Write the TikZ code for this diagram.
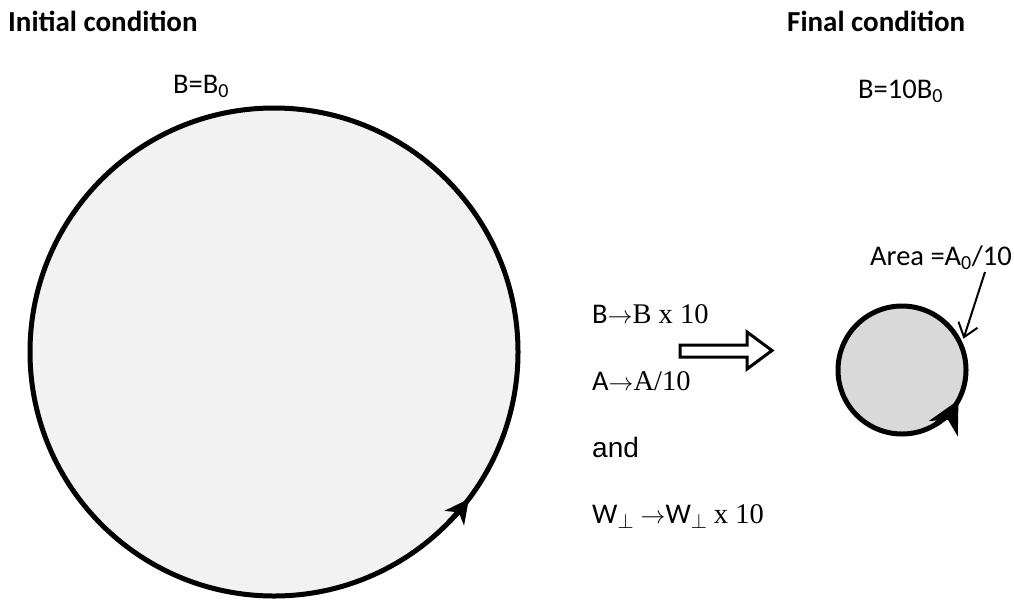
\documentclass[tikz,border=0pt]{standalone}
\usepackage{fontspec}
\setmainfont{Carlito}
\newfontfamily\cambria{Liberation Serif}
\newfontfamily\arialf{Liberation Sans}
\usetikzlibrary{arrows.meta,calc}
\newcommand{\toarr}{{\fontsize{26}{28}\selectfont$\rightarrow$}}

\begin{document}
\begin{tikzpicture}[x=1pt, y=-1pt,
  txt/.style={anchor=base west, inner sep=0pt, font=\fontsize{28.5}{34}\selectfont},
  ttl/.style={txt, font=\fontsize{29}{34}\selectfont\bfseries},
  ring/.style={line width=5pt},
  loop tip/.style={ring, -{Stealth[length=#1, width=#1, inset=0.3*#1]}}]
  \useasboundingbox (0,0) rectangle (1014,600);
  \coordinate (O1) at (274,352);
  \coordinate (O2) at (902,370);
  % titles
  \node[ttl] (ini) at (8,31) {Initial condition};
  \node[ttl] (fin) at (787,31) {Final condition};
  \node[txt] (b0) at (173,93) {B=B\textsubscript{0}};
  \node[txt] (b1) at (858,98) {B=10B\textsubscript{0}};
  % the two loops
  \filldraw[ring, fill=gray!10] (O1) circle[radius=244pt];
  \draw[loop tip=24pt] ($(O1)+(44:244)$) arc[start angle=44, end angle=37, radius=244];
  \filldraw[ring, fill=gray!30] (O2) circle[radius=64pt];
  \draw[loop tip=32pt] ($(O2)+(58:64)$) arc[start angle=58, end angle=28, radius=64];
  % area label
  \node[txt] (area) at (870,265) {Area =A\textsubscript{0}/10};
  \coordinate (a0) at (985,272);
  \coordinate (a1) at ($(O2)+(-27:69)$);
  \draw[line width=2pt, -{Straight Barb[length=13pt, width=20pt]}] (a0) -- (a1);
  % hollow arrow
  \draw[line width=3pt, line join=miter]
    (680,345) -- (747,345) -- (747,332) -- (772,350.5) -- (747,369) -- (747,357) -- (680,357) -- cycle;
  % rules
  \node[txt] (rb) at (592,323) {B\toarr{\cambria B x 10}};
  \node[txt] (ra) at (592,390) {A\toarr{\cambria A/10}};
  \node[txt, font=\fontsize{28}{34}\selectfont\arialf] (and) at (592,457) {and};
  \node[txt] (rw) at (592,523) {W$_\perp$ \toarr W$_\perp$ {\cambria x 10}};
\end{tikzpicture}
\end{document}
